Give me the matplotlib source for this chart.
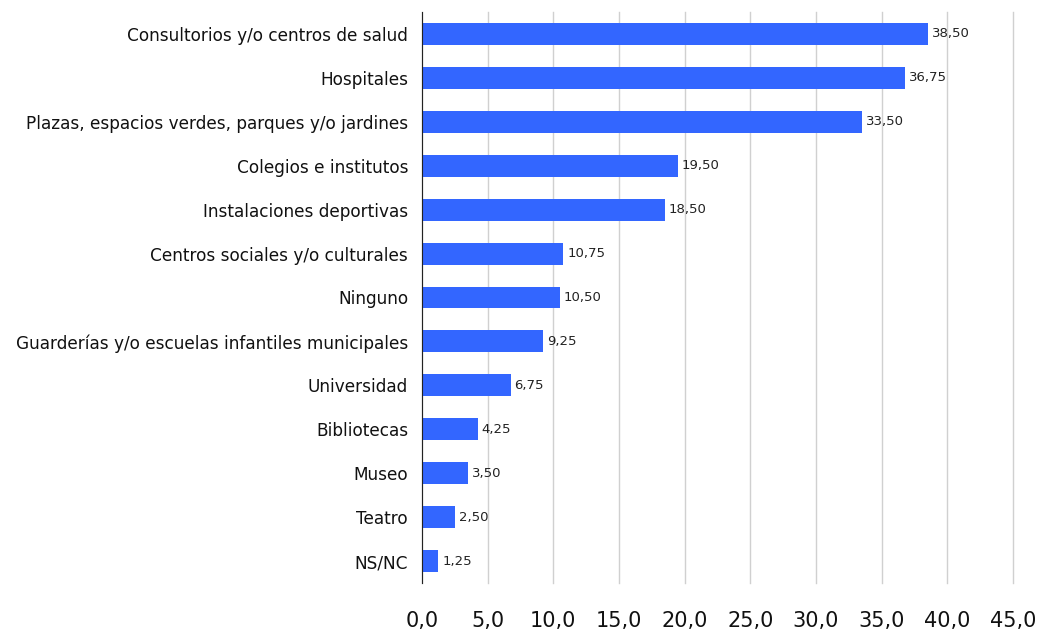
import matplotlib.pyplot as plt

# Categories and values (top to bottom as shown)
categories = ['Consultorios y/o centros de salud', 'Hospitales',
              'Plazas, espacios verdes, parques y/o jardines',
              'Colegios e institutos', 'Instalaciones deportivas',
              'Centros sociales y/o culturales', 'Ninguno',
              'Guarderías y/o escuelas infantiles municipales',
              'Universidad', 'Bibliotecas', 'Museo', 'Teatro', 'NS/NC']
values = [38.50, 36.75, 33.50, 19.50, 18.50, 10.75, 10.50,
          9.25, 6.75, 4.25, 3.50, 2.50, 1.25]
xticks = [0, 5, 10, 15, 20, 25, 30, 35, 40, 45]

plt.rcParams['font.family'] = ['DejaVu Sans']

fig = plt.figure(figsize=(10.38, 6.3), dpi=100)
ax = fig.add_axes([422 / 1038, 47 / 630, 591 / 1038, 571 / 630])

y = list(range(len(categories)))[::-1]
ax.barh(y, values, height=0.5, color='#3366FF', zorder=3)

for yi, v in zip(y, values):
    ax.text(v + 0.3, yi, f'{v:.2f}'.replace('.', ','), va='center',
            ha='left', fontsize=9.5, color='#222222', zorder=4)

ax.set_yticks(y)
ax.set_yticklabels(categories, fontsize=12.2, color='#111111')
ax.set_ylim(-0.5, len(categories) - 0.5)

ax.set_xlim(0, 45)
ax.set_xticks(xticks)
ax.set_xticklabels([f'{t:.1f}'.replace('.', ',') for t in xticks],
                   fontsize=15, color='#111111')
ax.grid(axis='x', color='#d0d0d0', linewidth=1, zorder=0)
for gl in ax.xaxis.get_gridlines():
    gl.set_clip_on(False)

ax.tick_params(axis='y', length=0, pad=10)
ax.tick_params(axis='x', length=0, pad=20)
for s in ['top', 'right', 'bottom']:
    ax.spines[s].set_visible(False)
ax.spines['left'].set_color('#222222')
ax.spines['left'].set_zorder(5)

fig.savefig('out.png', dpi=100)
